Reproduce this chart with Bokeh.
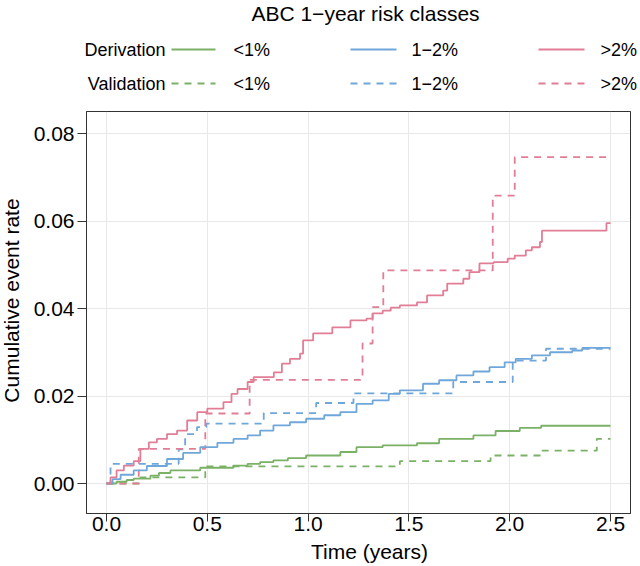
import numpy as np
from bokeh.plotting import figure
from bokeh.models import Range1d, LinearAxis, FixedTicker
from bokeh.core.properties import value
from bokeh.embed import file_html
from bokeh.resources import INLINE

# ---------------- data ----------------
x_ticks = [0.0, 0.5, 1.0, 1.5, 2.0, 2.5]
x_tick_labels = ["0.0", "0.5", "1.0", "1.5", "2.0", "2.5"]
y_ticks = [0.0, 0.02, 0.04, 0.06, 0.08]
y_tick_labels = ["0.00", "0.02", "0.04", "0.06", "0.08"]

classes = ["<1%", "1\u22122%", ">2%"]
cohorts = ["Derivation", "Validation"]
colors = ["#7BB166", "#70A7DA", "#E17E96"]
title_text = "ABC 1\u2212year risk classes"
x_title = "Time (years)"
y_title = "Cumulative event rate"

# Derivation cohort (solid)
der_lt1_t = [0, 0.05, 0.10, 0.135, 0.218, 0.26, 0.317, 0.465, 0.63, 0.70, 0.762, 0.828,
             0.90, 0.99, 1.16, 1.24, 1.37, 1.54, 1.65, 1.82, 1.93, 2.05, 2.156, 2.5]
der_lt1_y = [0, 0.0004, 0.0008, 0.0011, 0.0018, 0.0024, 0.0030, 0.0036, 0.0041, 0.0045,
             0.0049, 0.0053, 0.0058, 0.0064, 0.0072, 0.0083, 0.0087, 0.0092, 0.0102,
             0.0110, 0.0120, 0.0127, 0.0132, 0.0132]

der_12_t = [0, 0.03, 0.07, 0.135, 0.20, 0.30, 0.38, 0.465, 0.55, 0.63, 0.70, 0.762, 0.828,
            0.91, 0.99, 1.08, 1.16, 1.24, 1.32, 1.40, 1.455, 1.57, 1.65, 1.736, 1.82, 1.90,
            1.975, 2.03, 2.11, 2.20, 2.31, 2.36, 2.5]
der_12_y = [0, 0.0010, 0.0020, 0.0030, 0.0040, 0.0056, 0.0070, 0.0083, 0.0093, 0.0102,
            0.0110, 0.0121, 0.0133, 0.0140, 0.0148, 0.0156, 0.0163, 0.0182, 0.0190, 0.0205,
            0.0213, 0.0228, 0.0236, 0.0247, 0.0256, 0.0266, 0.0277, 0.0285, 0.0293, 0.0300,
            0.0304, 0.0310, 0.0310]

der_gt2_t = [0, 0.02, 0.05, 0.086, 0.135, 0.168, 0.21, 0.25, 0.30, 0.35, 0.40, 0.45, 0.50,
             0.58, 0.62, 0.65, 0.70, 0.73, 0.83, 0.87, 0.91, 0.96, 0.975, 1.025, 1.12, 1.21,
             1.29, 1.32, 1.37, 1.41, 1.455, 1.54, 1.59, 1.67, 1.69, 1.77, 1.80, 1.85, 1.92,
             1.99, 2.025, 2.08, 2.11, 2.15, 2.16, 2.48, 2.5]
der_gt2_y = [0, 0.0014, 0.0030, 0.0041, 0.0051, 0.0079, 0.0094, 0.0102, 0.0113, 0.0121,
             0.0144, 0.0163, 0.0171, 0.0186, 0.0205, 0.0216, 0.0232, 0.0243, 0.0254, 0.0274,
             0.0285, 0.0297, 0.0327, 0.0343, 0.0357, 0.0373, 0.0377, 0.0389, 0.0395, 0.0402,
             0.0407, 0.0414, 0.0430, 0.0441, 0.0457, 0.0468, 0.0483, 0.0503, 0.0506, 0.0514,
             0.0521, 0.0533, 0.0540, 0.0552, 0.0578, 0.0595, 0.0595]

# Validation cohort (dashed)
val_lt1_t = [0, 0.168, 0.49, 1.455, 1.905, 2.162, 2.432, 2.5]
val_lt1_y = [0, 0.0014, 0.0039, 0.0051, 0.0064, 0.0075, 0.0102, 0.0102]

val_12_t = [0, 0.02, 0.358, 0.39, 0.449, 0.495, 0.78, 1.04, 1.225, 1.72, 2.015, 2.18, 2.5]
val_12_y = [0, 0.0045, 0.0078, 0.0113, 0.0129, 0.0137, 0.0161, 0.0184, 0.0206, 0.0232,
            0.0281, 0.0308, 0.0308]

val_gt2_t = [0, 0.16, 0.49, 0.71, 1.27, 1.32, 1.373, 1.916, 2.025, 2.5]
val_gt2_y = [0, 0.0079, 0.0160, 0.0237, 0.0320, 0.0403, 0.0487, 0.0658, 0.0746, 0.0746]

der_series = [(der_lt1_t, der_lt1_y), (der_12_t, der_12_y), (der_gt2_t, der_gt2_y)]
val_series = [(val_lt1_t, val_lt1_y), (val_12_t, val_12_y), (val_gt2_t, val_gt2_y)]

# ---------------- layout / style ----------------
FONT = "Liberation Sans"
DASH = "7 6"
AX = "#333333"
W, H = 640, 566
FL, FR, FT, FB = 86, 630, 111, 513          # frame edges in canvas px
X0, X1 = -0.0992, 2.5992
Y0, Y1 = -0.006857, 0.085029


def px2x(px):
    return X0 + (px - FL) / (FR - FL) * (X1 - X0)


def px2y(py):
    return Y0 + (FB - py) / (FB - FT) * (Y1 - Y0)


p = figure(width=W, height=H, output_backend="svg", toolbar_location=None,
           x_range=Range1d(X0, X1), y_range=Range1d(Y0, Y1),
           min_border_left=FL, min_border_right=W - FR, min_border_top=FT,
           min_border_bottom=H - FB)

p.outline_line_color = AX
p.outline_line_width = 1
p.background_fill_color = "white"

for g in p.grid:
    g.grid_line_color = "#e8e8e8"
    g.grid_line_width = 1
p.xgrid.ticker = FixedTicker(ticks=x_ticks)
p.ygrid.ticker = FixedTicker(ticks=y_ticks)

xa = p.xaxis[0]
xa.ticker = FixedTicker(ticks=x_ticks)
xa.major_label_overrides = dict(zip(x_ticks, x_tick_labels))
xa.major_tick_out = 8
xa.major_label_standoff = -5

ya = p.yaxis[0]
ya.ticker = FixedTicker(ticks=y_ticks)
ya.major_label_overrides = dict(zip(y_ticks, y_tick_labels))
ya.major_tick_out = 9
ya.major_label_standoff = 3

for ax in (xa, ya):
    ax.major_tick_in = 0
    ax.minor_tick_out = 0
    ax.minor_tick_in = 0
    ax.axis_line_color = AX
    ax.major_tick_line_color = AX
    ax.major_label_text_font = FONT
    ax.major_label_text_font_size = "21px"
    ax.major_label_text_color = "#000000"

top = LinearAxis(ticker=FixedTicker(ticks=x_ticks), major_tick_out=8, major_tick_in=0,
                 minor_tick_out=0, minor_tick_in=0, major_label_standoff=0,
                 axis_label_standoff=0, major_label_text_font_size="0px",
                 major_label_overrides={t: "" for t in x_ticks}, fixed_location=Y1,
                 axis_line_color=AX, major_tick_line_color=AX)
p.add_layout(top, "above")
right = LinearAxis(ticker=FixedTicker(ticks=y_ticks), major_tick_out=9, major_tick_in=0,
                   minor_tick_out=0, minor_tick_in=0, major_label_standoff=0,
                   axis_label_standoff=0, major_label_text_font_size="0px",
                   major_label_overrides={t: "" for t in y_ticks}, fixed_location=X1,
                   axis_line_color=AX, major_tick_line_color=AX)
p.add_layout(right, "right")

for (t, y), c in zip(val_series, colors):
    p.step(t, y, mode="after", line_color=c, line_width=1.8, line_dash=DASH)
for (t, y), c in zip(der_series, colors):
    p.step(t, y, mode="after", line_color=c, line_width=1.8)

# ---------------- axis titles (in the margins) ----------------
p.text(x=[px2x(369)], y=[px2y(551)], text=[x_title], text_font=value(FONT),
       text_font_size="21px", text_align="center", text_baseline="middle",
       text_color="#000000", level="overlay")
p.text(x=[px2x(11)], y=[px2y(300)], text=[y_title], text_font=value(FONT),
       text_font_size="21px", text_align="center", text_baseline="middle",
       angle=np.pi / 2, text_color="#000000", level="overlay")

# ---------------- legend (top margin) ----------------
title_pos = (365, 13)
row_py = [49, 83]
row_label_px = 165
line_px0 = [171, 350, 538]
line_px1 = [215, 396, 584]
lab_px = [233, 411, 600]

p.text(x=[px2x(title_pos[0])], y=[px2y(title_pos[1])], text=[title_text],
       text_font=value(FONT), text_font_size="21px", text_align="center",
       text_baseline="middle", text_color="#000000", level="overlay")
p.text(x=[px2x(row_label_px)] * 2, y=[px2y(v) for v in row_py], text=cohorts,
       text_font=value(FONT), text_font_size="18px", text_align="right",
       text_baseline="middle", text_color="#000000", level="overlay")
for ry in row_py:
    p.text(x=[px2x(v) for v in lab_px], y=[px2y(ry)] * 3, text=classes,
           text_font=value(FONT), text_font_size="18px", text_align="left",
           text_baseline="middle", text_color="#000000", level="overlay")

seg_x0 = [px2x(v) for v in line_px0]
seg_x1 = [px2x(v) for v in line_px1]
p.segment(x0=seg_x0, y0=[px2y(row_py[0])] * 3, x1=seg_x1, y1=[px2y(row_py[0])] * 3,
          line_color=colors, line_width=1.8, level="overlay")
p.segment(x0=seg_x0, y0=[px2y(row_py[1])] * 3, x1=seg_x1, y1=[px2y(row_py[1])] * 3,
          line_color=colors, line_width=1.8, line_dash=DASH, level="overlay")

open("out.html", "w").write(file_html(p, INLINE))
